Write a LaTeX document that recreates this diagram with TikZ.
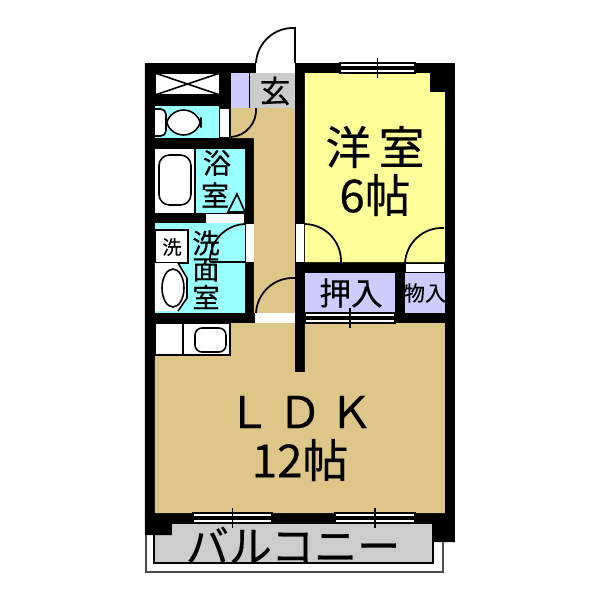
\documentclass[tikz,border=0pt]{standalone}
\usepackage{fontspec}
\newfontfamily\cjk[FakeBold=0.35]{Noto Sans CJK JP}
\definecolor{floorTan}{HTML}{DDC688}
\definecolor{roomYellow}{HTML}{FFFF99}
\definecolor{wetCyan}{HTML}{99FFFF}
\definecolor{storePurple}{HTML}{CCCCFF}
\definecolor{entryGray}{HTML}{CCCCCC}
\tikzset{
  lbl/.style={font=\cjk\fontsize{#1}{#1}\selectfont, inner sep=0pt},
  fixture/.style={draw=black, line width=0.9pt, fill=white},
  door/.style={draw=black, line width=1pt},
}
\begin{document}
\begin{tikzpicture}[x=0.02cm,y=-0.02cm]
\useasboundingbox (0,0) rectangle (600,600);
\def\outerwall{(145,63) -| (455,542) -- (433,542) -- (433,523) -- (172,523) -- (172,535) -- (145,535) -- cycle}

% balcony
\draw[black!70, line width=0.8pt, fill=white] (146,520) |- (443,572) -- (443,535);
\draw[black, line width=0.9pt, fill=entryGray] (154,523) rectangle (433,563);

\fill[black] \outerwall;

% rooms
\fill[floorTan] (231,108) -| (295,313) -| (254,138) -| cycle;
\fill[floorTan] (155,323) -| (295,372) -| (305,323) -| (445,513) -| cycle;
\fill[roomYellow] (305,73) -| (430,92) -| (445,262) -| cycle;
\fill[wetCyan] (155,106) rectangle (219,138);
\fill[wetCyan] (196,149) rectangle (245,213);
\fill[wetCyan] (155,223) rectangle (245,313);
\fill[storePurple] (231,73) rectangle (249,108);
\fill[storePurple] (305,273) rectangle (395,313);
\fill[storePurple] (405,273) rectangle (445,313);
\fill[entryGray] (250,73) rectangle (295,108);

% closet
\draw[fixture] (155,73) rectangle (220,95);
\draw[line width=0.9pt] (155,73) -- (220,95) (155,95) -- (220,73);

% toilet
\fill[white] (220,109) rectangle (229,137);
\draw[fixture, rounded corners=3pt] (150,109) rectangle (166,136);
\draw[fixture, rounded corners=10pt] (166,110) rectangle (201,135);
\fill[black] (145,109) rectangle (155,136);

% bath
\fill[white] (155,149) rectangle (195,213);
\draw[line width=0.9pt] (195,149) -- (195,213);
\draw[fixture, rounded corners=6pt] (159,155) rectangle (191,205);
\fill[white] (206,214) rectangle (244,223);
\draw[line width=0.9pt] (228,212) -- (237,194) -- (245,212) -- cycle;

% wash room
\draw[fixture] (155,230) rectangle (188,263);
\fill[white] (155,263) -- (178,263) -- (187,278) -- (187,298) -- (178,311) -- (155,311) -- cycle;
\draw[line width=0.9pt] (178,263) -- (187,278) -- (187,298) -- (178,311);
\draw[fixture] (173,288) ellipse (11 and 19);
\draw[line width=0.9pt] (210,262) -- (245,262);
\fill[white] (246,224) rectangle (254,262);

% kitchen
\draw[fixture] (155,323) rectangle (230,355);
\draw[line width=0.9pt] (183,323) -- (183,355);
\draw[fixture, rounded corners=4pt] (195,328) rectangle (226,352);

% door strips
\fill[white] (256,63) rectangle (295,73);
\fill[white] (255,313) rectangle (295,323);
\fill[white] (296,224) rectangle (304,262);
\fill[white] (406,264) rectangle (444,272);

% door leaves
\draw[door] (295,63) -- (295,28) to[bend right=45] (256,63);
\draw[door] (256,108) to[bend left=45] (231,137);
\draw[door] (245,224) to[bend right=45] (210,262);
\draw[door] (295,278) to[bend right=45] (256,313);
\draw[door] (305,224) to[bend left=45] (341,262);
\draw[door] (444,228) to[bend right=45] (405,263);

% sliding windows
\foreach \xa/\xb/\ya in {340/415/63, 193/272/513, 335/415/513, 305/395/313} {
  \pgfmathsetmacro\xm{(\xa+\xb)/2}
  \fill[white] (\xa,\ya) rectangle (\xb,\ya+10);
  \draw[line width=0.8pt] (\xa,\ya) rectangle (\xb,\ya+10);
  \draw[line width=0.7pt] (\xa,\ya+4) -- (\xb,\ya+4) (\xa,\ya+6) -- (\xb,\ya+6);
  \draw[line width=0.9pt] (\xm,\ya-5) -- (\xm,\ya+15);
}

% labels
\node[lbl=17.5] (entry) at (275,91) {玄};
\node[lbl=26] (western) at (375,147) {洋\,室};
\node[lbl=26] (westernsize) at (375,195) {6帖};
\node[lbl=16] (bathA) at (217,163) {浴};
\node[lbl=16] (bathB) at (215,195) {室};
\node[lbl=11] (washer) at (172,247) {洗};
\node[lbl=15.5] (washA) at (206,243) {洗};
\node[lbl=15.5] (washB) at (206,270) {面};
\node[lbl=15.5] (washC) at (206,297) {室};
\node[lbl=18] (closet) at (351,293) {押入};
\node[lbl=12] (store) at (425,293) {物入};
\node[lbl=25] (ldk) at (300,412) {Ｌ\,Ｄ\,Ｋ};
\node[lbl=26] (ldksize) at (300,460) {12帖};
\node[lbl=24.5] (balcony) at (293,545) {バルコニー};
\end{tikzpicture}
\end{document}
